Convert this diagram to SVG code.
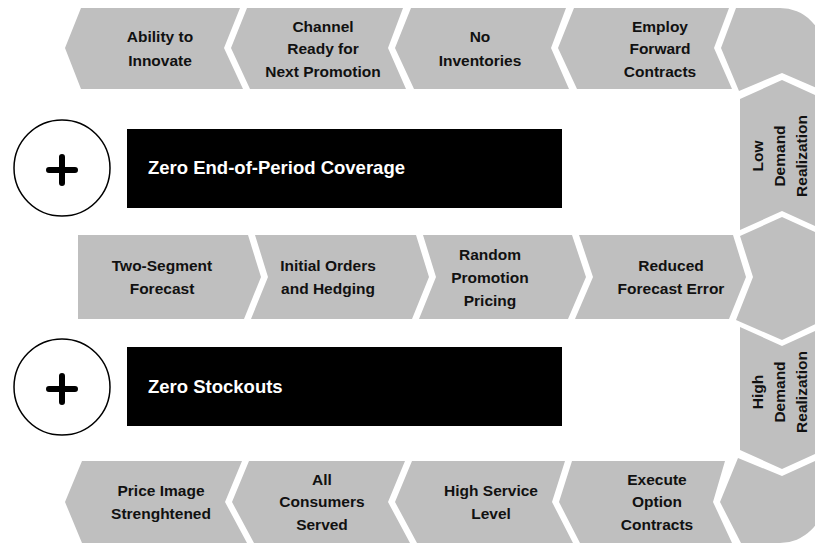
<svg xmlns="http://www.w3.org/2000/svg" width="815" height="544" viewBox="0 0 815 544">
<style>
.s{fill:#bfbfbf;stroke:none}
.t{font-family:"Liberation Sans",Arial,sans-serif;font-weight:bold;font-size:15.5px;fill:#111;text-anchor:middle}
.b{fill:#000}
.bt{font-family:"Liberation Sans",Arial,sans-serif;font-weight:bold;font-size:18.5px;fill:#fff}
.c{fill:#fff;stroke:#000;stroke-width:1.5}
.p{stroke:#000;stroke-width:6;stroke-linecap:round;fill:none}
</style>
<rect width="815" height="544" fill="#fff"/>
<g id="connectors"></g>
<!-- top row -->
<g id="ability"><path class="s" d="M65,48 L81,8 L240,8 L224,48 L243,89 L81,89 Z"/>
<text class="t"><tspan x="160" y="42">Ability to</tspan><tspan x="160" y="66">Innovate</tspan></text></g>
<g id="channel"><path class="s" d="M231,48 L247,8 L403,8 L388,48 L406,89 L250,89 Z"/>
<text class="t"><tspan x="323" y="32">Channel</tspan><tspan x="323" y="54">Ready for</tspan><tspan x="323" y="77">Next Promotion</tspan></text></g>
<g id="noinv"><path class="s" d="M395,48 L411,8 L566,8 L551,48 L569,89 L414,89 Z"/>
<text class="t"><tspan x="480" y="42">No</tspan><tspan x="480" y="66">Inventories</tspan></text></g>
<g id="forward"><path class="s" d="M558,48 L574,8 L729,8 L714,48 L732,89 L577,89 Z"/>
<text class="t"><tspan x="660" y="32">Employ</tspan><tspan x="660" y="54">Forward</tspan><tspan x="660" y="77">Contracts</tspan></text></g>
<g id="topcorner"><path class="s" d="M721,48 L736,8 L780,8 A44,44 0 0 1 824,52 L824,91 L782,73 L739,91 Z"/></g>
<!-- right column -->
<g id="low"><path class="s" d="M740,99 L782,80 L824,99 L824,230 L782,211 L740,230 Z"/>
<text class="t" transform="translate(780,156) rotate(-90)"><tspan x="0" y="-17">Low</tspan><tspan x="0" y="5">Demand</tspan><tspan x="0" y="27">Realization</tspan></text></g>
<g id="split"><path class="s" d="M740,236 L782,217 L824,236 L824,320 L782,340 L736,320 L753,277 Z"/></g>
<g id="high"><path class="s" d="M740,327 L782,346 L824,327 L824,450 L782,469 L740,450 Z"/>
<text class="t" transform="translate(780,392) rotate(-90)"><tspan x="0" y="-17">High</tspan><tspan x="0" y="5">Demand</tspan><tspan x="0" y="27">Realization</tspan></text></g>
<g id="botcorner"><path class="s" d="M720,502 L738,458 L782,476 L824,457 L824,499 A44,44 0 0 1 780,543 L741,543 Z"/></g>
<!-- middle row -->
<g id="twoseg"><path class="s" d="M78,235 L248,235 L261,277 L244,319 L78,319 Z"/>
<text class="t"><tspan x="162" y="271">Two-Segment</tspan><tspan x="162" y="294">Forecast</tspan></text></g>
<g id="initial"><path class="s" d="M255,235 L416,235 L429,277 L412,319 L251,319 L268,277 Z"/>
<text class="t"><tspan x="328" y="271">Initial Orders</tspan><tspan x="328" y="294">and Hedging</tspan></text></g>
<g id="random"><path class="s" d="M423,235 L572,235 L586,277 L568,319 L419,319 L436,277 Z"/>
<text class="t"><tspan x="490" y="260">Random</tspan><tspan x="490" y="283">Promotion</tspan><tspan x="490" y="306">Pricing</tspan></text></g>
<g id="reduced"><path class="s" d="M579,235 L733,235 L746,277 L729,319 L575,319 L593,277 Z"/>
<text class="t"><tspan x="671" y="271">Reduced</tspan><tspan x="671" y="294">Forecast Error</tspan></text></g>
<!-- bottom row -->
<g id="price"><path class="s" d="M65,502 L82,461 L242,461 L225,502 L247,543 L82,543 Z"/>
<text class="t"><tspan x="161" y="496">Price Image</tspan><tspan x="161" y="519">Strenghtened</tspan></text></g>
<g id="consumers"><path class="s" d="M232,502 L249,461 L405,461 L388,502 L410,543 L254,543 Z"/>
<text class="t"><tspan x="322" y="485">All</tspan><tspan x="322" y="507">Consumers</tspan><tspan x="322" y="530">Served</tspan></text></g>
<g id="service"><path class="s" d="M395,502 L412,461 L565,461 L552,502 L573,543 L417,543 Z"/>
<text class="t"><tspan x="491" y="496">High Service</tspan><tspan x="491" y="519">Level</tspan></text></g>
<g id="option"><path class="s" d="M559,502 L572,461 L725,461 L713,502 L732,543 L580,543 Z"/>
<text class="t"><tspan x="657" y="485">Execute</tspan><tspan x="657" y="507">Option</tspan><tspan x="657" y="530">Contracts</tspan></text></g>
<!-- black boxes and circles -->
<g id="coverage"><rect class="b" x="127" y="129" width="435" height="79"/>
<text class="bt" x="148" y="174">Zero End-of-Period Coverage</text></g>
<g id="plus1"><circle class="c" cx="62" cy="168" r="48"/><path class="p" d="M49,170 H75 M62,157 V183"/></g>
<g id="stockouts"><rect class="b" x="127" y="347" width="435" height="79"/>
<text class="bt" x="148" y="393">Zero Stockouts</text></g>
<g id="plus2"><circle class="c" cx="62" cy="387" r="48"/><path class="p" d="M49,389 H75 M62,376 V402"/></g>
</svg>
